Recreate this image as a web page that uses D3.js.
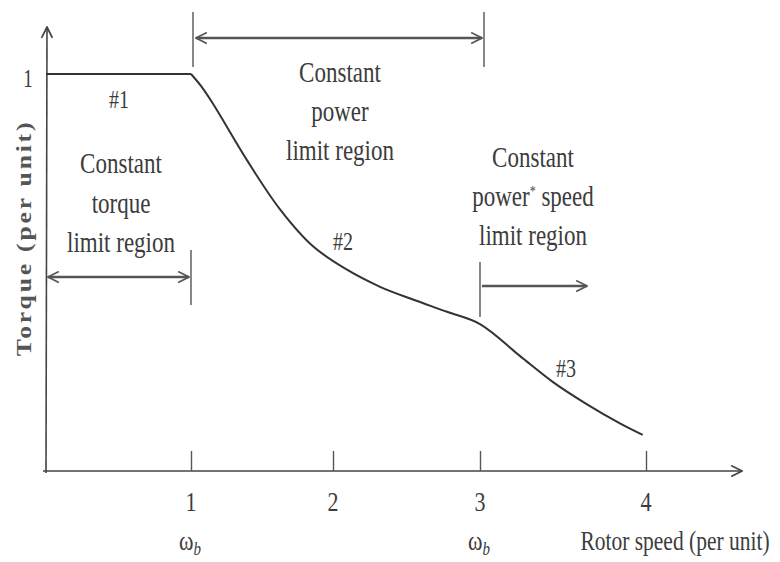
<!DOCTYPE html>
<html lang="en">
<head>
<meta charset="utf-8">
<title>Torque vs rotor speed</title>
<script src="https://d3js.org/d3.v7.min.js"></script>
<style>
  body { margin: 0; background: #fff; }
  text { font-family: "Liberation Serif", "DejaVu Serif", serif; fill: #3c3c3c; }
</style>
</head>
<body>
<div id="chart"></div>
<script type="text/javascript">
	// data (speed and torque in per unit)
	var flatSpeed  = [0, 1.0],
		flatTorque = [1.0, 1.0];
	var curveSpeed  = [1.0, 1.07, 1.155, 1.394, 1.627, 1.859, 2.095, 2.32, 2.544, 2.776, 3.0, 3.24, 3.44, 3.645, 3.843, 3.98],
		curveTorque = [1.0, 0.970, 0.925, 0.783, 0.659, 0.566, 0.507, 0.464, 0.432, 0.401, 0.370, 0.290, 0.224, 0.168, 0.120, 0.091];
	var xTicks = [1, 2, 3, 4],
		xTickLabels = ['1', '2', '3', '4'],
		baseTicks = [1, 3],
		segmentLabels = ['#1', '#2', '#3'];
	var leftRegion  = ['Constant', 'torque', 'limit region'],
		midRegion   = ['Constant', 'power', 'limit region'],
		rightRegion = ['Constant', 'power* speed', 'limit region'];

	var W = 780, H = 562, STRETCH = 1.28;

	var svg = d3.select("#chart").append("svg")
		.attr("width", W)
		.attr("height", H);

	// axis is not evenly spaced in the original drawing
	var x = d3.scaleLinear()
		.domain([0, 1, 2, 3, 4])
		.range([46, 191, 333, 480, 646]);
	var y = d3.scaleLinear()
		.domain([0, 1])
		.range([471, 74]);

	var defs = svg.append("defs");
	function marker(id, color, w) {
		defs.append("marker")
			.attr("id", id)
			.attr("viewBox", "0 0 12 12")
			.attr("refX", 11).attr("refY", 6)
			.attr("markerWidth", w).attr("markerHeight", w)
			.attr("markerUnits", "userSpaceOnUse")
			.attr("orient", "auto-start-reverse")
			.append("path")
			.attr("d", "M1,1 L11,6 L1,11")
			.attr("fill", "none")
			.attr("stroke", color)
			.attr("stroke-width", 1.6);
	}
	marker("axisArrow", "#444", 13);
	marker("regArrow", "#555", 13);

	// axes
	svg.append("line")
		.attr("x1", x(0) - 3).attr("y1", y(0))
		.attr("x2", 742).attr("y2", y(0))
		.attr("stroke", "#444").attr("stroke-width", 1.6)
		.attr("marker-end", "url(#axisArrow)");
	svg.append("line")
		.attr("x1", x(0)).attr("y1", y(0) + 2)
		.attr("x2", x(0) + 1).attr("y2", 27)
		.attr("stroke", "#444").attr("stroke-width", 1.6)
		.attr("marker-end", "url(#axisArrow)");

	var xAxis = d3.axisBottom(x).tickValues(xTicks).tickSize(-20).tickFormat("");
	var gx = svg.append("g")
		.attr("transform", "translate(0," + y(0) + ")")
		.call(xAxis);
	gx.select(".domain").remove();
	gx.selectAll(".tick line").attr("stroke", "#555").attr("stroke-width", 1.4);

	// stretched serif text, like the scanned figure
	function label(str, cx, base, size, anchor) {
		return svg.append("text")
			.attr("transform", "translate(" + cx + "," + base + ") scale(1," + STRETCH + ")")
			.attr("text-anchor", anchor || "middle")
			.style("font-size", size + "px")
			.text(str);
	}

	xTicks.forEach(function(t, i) {
		label(xTickLabels[i], x(t), 511, 22);
	});
	baseTicks.forEach(function(t) {
		var tx = label("", x(t) - 1, 550, 22);
		tx.append("tspan").text("ω");
		tx.append("tspan").attr("dy", 4).style("font-size", "15px").style("font-style", "italic").text("b");
	});
	label("1", 28, 87, 19);

	// axis titles
	label("Rotor speed (per unit)", 675, 550, 21.5);
	svg.append("text")
		.attr("transform", "translate(31,238) scale(1," + STRETCH + ") rotate(-90)")
		.attr("text-anchor", "middle")
		.style("font-size", "20px")
		.style("letter-spacing", "2.2px")
		.style("font-weight", "bold")
		.style("fill", "#555")
		.text("Torque (per unit)");

	// the torque curve
	var line = d3.line()
		.x(function(d) { return x(d[0]); })
		.y(function(d) { return y(d[1]); });
	svg.append("path")
		.datum(d3.zip(flatSpeed, flatTorque))
		.attr("fill", "none").attr("stroke", "#333").attr("stroke-width", 2)
		.attr("d", line);
	svg.append("path")
		.datum(d3.zip(curveSpeed, curveTorque))
		.attr("fill", "none").attr("stroke", "#333").attr("stroke-width", 2)
		.attr("stroke-linejoin", "round")
		.attr("d", line.curve(d3.curveCatmullRom.alpha(0.5)));

	label(segmentLabels[0], 119, 108, 20);
	label(segmentLabels[1], 343, 250, 20);
	label(segmentLabels[2], 566, 377, 20);

	// region markers
	function vbar(px, y1, y2) {
		svg.append("line")
			.attr("x1", px).attr("y1", y1).attr("x2", px).attr("y2", y2)
			.attr("stroke", "#555").attr("stroke-width", 1.4);
	}
	function arrow(x1, x2, py, both) {
		var l = svg.append("line")
			.attr("x1", x1).attr("y1", py).attr("x2", x2).attr("y2", py)
			.attr("stroke", "#555").attr("stroke-width", 2.6)
			.attr("marker-end", "url(#regArrow)");
		if (both) l.attr("marker-start", "url(#regArrow)");
	}
	vbar(x(1) + 2, 12, 67);
	vbar(x(3) + 4, 12, 67);
	arrow(x(1) + 5, x(3) + 2, 38, true);
	vbar(x(1), 250, 305);
	arrow(x(0) + 2, x(1) - 2, 277, true);
	vbar(x(3), 262, 317);
	arrow(x(3) + 2, 587, 286, false);

	// region texts
	leftRegion.forEach(function(s, i) { label(s, 121, 173 + i * 39.5, 23); });
	midRegion.forEach(function(s, i) { label(s, 340, 82 + i * 39, 23); });
	rightRegion.forEach(function(s, i) {
		if (s.indexOf('*') > -1) {
			var parts = s.split('*');
			var t = label("", 533, 167 + i * 39, 23);
			t.append("tspan").text(parts[0]);
			t.append("tspan").attr("dy", -8).style("font-size", "12px").text("*");
			t.append("tspan").attr("dy", 8).text(parts[1]);
		} else {
			label(s, 533, 167 + i * 39, 23);
		}
	});
</script>
</body>
</html>
